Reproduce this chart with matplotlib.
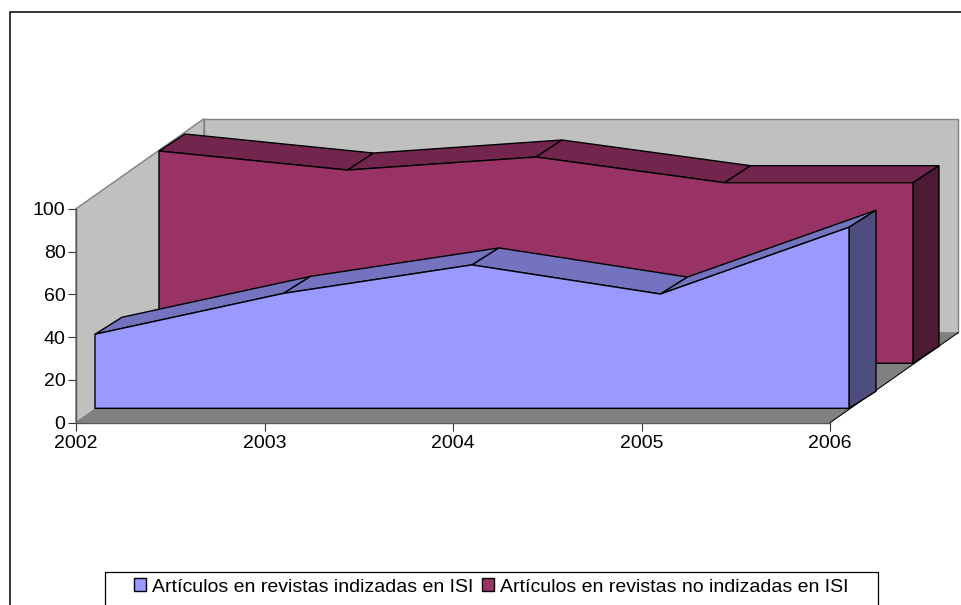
import matplotlib
matplotlib.use("Agg")
import matplotlib.pyplot as plt
from matplotlib.patches import Polygon, Patch, Rectangle

plt.rcParams['font.family'] = ['Liberation Sans', 'DejaVu Sans']

years = [2002, 2003, 2004, 2005, 2006]
yticks = [0, 20, 40, 60, 80, 100]
isi = [34.6, 53.7, 67.0, 53.4, 84.6]
no_isi = [99.2, 90.3, 96.4, 84.4, 84.4]
label_isi = "Artículos en revistas indizadas en ISI"
label_no_isi = "Artículos en revistas no indizadas en ISI"

W, H = 962, 605
fig = plt.figure(figsize=(W / 100, H / 100), dpi=100, facecolor="white")
L, R, B, T = 76, 830, 422.7, 208.7
ax = fig.add_axes([L / W, 1 - B / H, (R - L) / W, (B - T) / H], facecolor="none")
ax.set_xlim(years[0], years[-1])
ax.set_ylim(0, 100)

px_x = (years[-1] - years[0]) / (R - L)
px_y = 100 / (B - T)


def P(year, value, depth):
    """Oblique projection: depth=(right px, up px) behind the front plane."""
    return (year + depth[0] * px_x, value + depth[1] * px_y)


def poly(points, face, edge="black", lw=1.0, z=2):
    ax.add_patch(Polygon(points, closed=True, facecolor=face, edgecolor=edge,
                         linewidth=lw, clip_on=False, zorder=z, joinstyle="miter"))


front = (0, 0)
back = (128, 90)
x0, x1 = years[0], years[-1]
# walls and floor
poly([P(x0, 0, front), P(x0, 100, front), P(x0, 100, back), P(x0, 0, back)],
     "#C0C0C0", "#808080", 1.0, 1)
poly([P(x0, 0, back), P(x0, 100, back), P(x1, 100, back), P(x1, 0, back)],
     "#C0C0C0", "#808080", 1.0, 1)
poly([P(x0, 0, front), P(x1, 0, front), P(x1, 0, back), P(x0, 0, back)],
     "#808080", "#808080", 0.6, 1.1)
ax.plot(*zip(P(x1, 0, front), P(x1, 0, back)), color="black", lw=0.7, clip_on=False, zorder=1.2)


def area(values, d_front, d_back, c_front, c_top, c_side, z):
    for i in range(len(years) - 1):
        poly([P(years[i], values[i], d_front), P(years[i + 1], values[i + 1], d_front),
              P(years[i + 1], values[i + 1], d_back), P(years[i], values[i], d_back)],
             c_top, z=z)
    poly([P(x1, 0, d_front), P(x1, values[-1], d_front),
          P(x1, values[-1], d_back), P(x1, 0, d_back)], c_side, z=z + 0.1)
    outline = [P(x0, 0, d_front)] + [P(y, v, d_front) for y, v in zip(years, values)] + [P(x1, 0, d_front)]
    poly(outline, c_front, z=z + 0.2)


area(no_isi, (83, 59.4), (109, 76.4), "#993366", "#73264D", "#4C1A33", 3)
area(isi, (19, 14.4), (46, 31.4), "#9999FF", "#7373BF", "#4D4D80", 4)

for s in ("top", "right"):
    ax.spines[s].set_visible(False)
for s in ("left", "bottom"):
    ax.spines[s].set_color("#555555")
    ax.spines[s].set_linewidth(1.0)
ax.set_xticks(years)
ax.set_xticklabels([str(y) for y in years])
ax.set_yticks(yticks)
ax.tick_params(axis="both", labelsize=14, length=5.5, width=0.8, color="#333333", labelcolor="black")
ax.tick_params(axis="x", pad=3)
ax.tick_params(axis="y", pad=2)

# chart border and legend box, both running off the canvas
fig.add_artist(Rectangle((9.5 / W, -0.1), 1.1, 1.1 - 0.1 + 0.1 - 11.5 / H + 0.0, transform=fig.transFigure,
                         facecolor="none", edgecolor="black", linewidth=1.1))
fig.add_artist(Rectangle((105 / W, -0.1), (878 - 105) / W, 0.1 + 1 - 572 / H, transform=fig.transFigure,
                         facecolor="none", edgecolor="black", linewidth=0.9))

handles = [Patch(facecolor="#9999FF", edgecolor="black", linewidth=1.0, label=label_isi),
           Patch(facecolor="#993366", edgecolor="black", linewidth=1.0, label=label_no_isi)]
fig.legend(handles=handles, loc="center", bbox_to_anchor=(491 / W, 1 - 587 / H), ncol=2, frameon=False,
           fontsize=14, handlelength=0.62, handleheight=0.62, handletextpad=0.3,
           columnspacing=0.45, borderpad=0, borderaxespad=0)

fig.savefig("out.png", dpi=100)
